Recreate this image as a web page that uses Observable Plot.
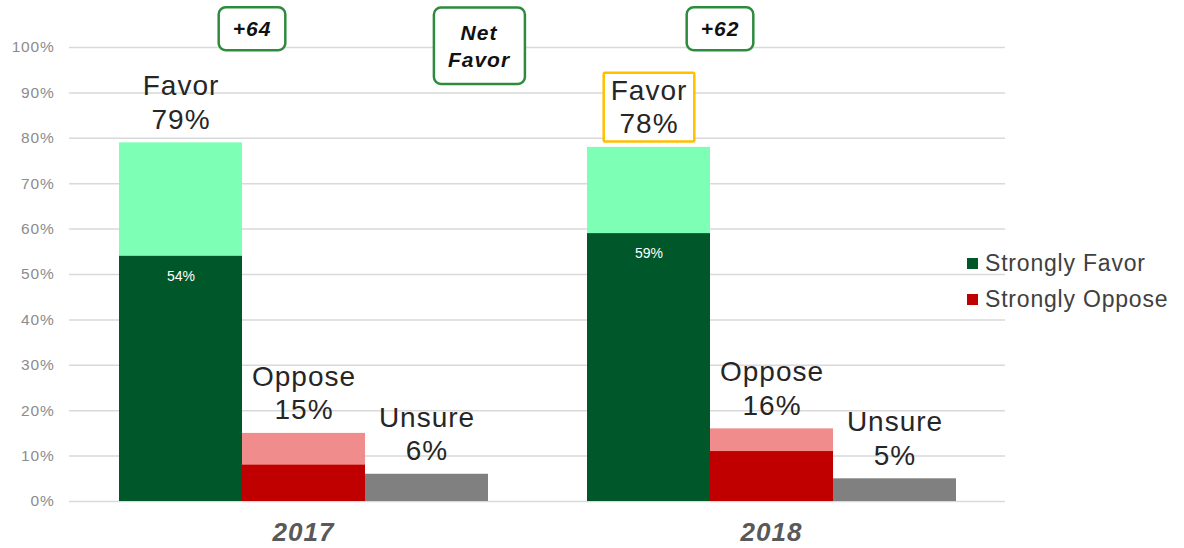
<!DOCTYPE html>
<html><head><meta charset="utf-8">
<script src="https://cdn.jsdelivr.net/npm/d3@7"></script>
<script src="https://cdn.jsdelivr.net/npm/@observablehq/plot@0.6"></script>
<style>
body{margin:0;background:#fff;font-family:"Liberation Sans",Arial,sans-serif;}
#wrap{position:relative;width:1184px;height:548px;overflow:hidden;}
#legend{position:absolute;left:967px;top:245px;}
.item{display:flex;align-items:center;height:36px;font-size:23px;letter-spacing:0.8px;color:#404040;white-space:nowrap;}
.sw{width:11px;height:11px;margin-right:7px;flex:none;}
</style></head><body><div id="wrap"><div id="chart"></div><div id="legend"></div></div>
<script>
const years = ["2017", "2018"];
const categories = ["Favor", "Oppose", "Unsure"];
const total2017 = [79, 15, 6];
const total2018 = [78, 16, 5];
const strong2017 = [54, 8, 0];
const strong2018 = [59, 11, 0];
const netFavor = ["+64", "+62"];
const netTitle = "Net\nFavor";
const legendLabels = ["Strongly Favor", "Strongly Oppose"];
const legendKeys = ["Favor strong", "Oppose strong"];
const highlighted = ["2018 Favor"];

const colorDomain = ["Favor total", "Oppose total", "Unsure total", "Favor strong", "Oppose strong"];
const colorRange = ["#7dffb5", "#f08c8c", "#808080", "#00572a", "#c00000"];

const rows = [];
years.forEach((yr, i) => {
  const t = i ? total2018 : total2017;
  const s = i ? strong2018 : strong2017;
  categories.forEach((c, j) => rows.push({year: yr, category: c, total: t[j], strong: s[j]}));
});
const isHi = d => highlighted.includes(d.year + " " + d.category);
const netRows = years.map((yr, i) => ({year: yr, label: netFavor[i], anchor: "Oppose"}));
const titleRows = [{year: years[0], label: netTitle, anchor: "Unsure"}];

const labelOpts = {fx: "year", x: "category", y: "total", text: d => `${d.category}\n${d.total}%`,
  lineAnchor: "bottom", dy: -14, fontSize: 28, lineHeight: 1.2, fill: "#262626"};
const netOpts = {fx: "year", x: "anchor", text: "label", frameAnchor: "top", lineAnchor: "middle",
  fontSize: 21, fontWeight: "bold", fontStyle: "italic", fill: "#111", lineHeight: 1.3};

const chart = Plot.plot({
  width: 1184, height: 548,
  marginLeft: 68, marginRight: 179, marginTop: 47, marginBottom: 47,
  style: {fontFamily: "'Liberation Sans', Arial, sans-serif", background: "transparent"},
  fx: {domain: years, padding: 0, label: null},
  x: {domain: categories, paddingInner: 0, paddingOuter: 0.4, axis: null},
  y: {domain: [0, 100]},
  color: {domain: colorDomain, range: colorRange},
  marks: [
    Plot.gridY({ticks: d3.range(0, 101, 10), stroke: "#d9d9d9", strokeOpacity: 1, strokeWidth: 1.5}),
    Plot.axisY({ticks: d3.range(0, 101, 10), tickSize: 0, tickPadding: 15, tickFormat: d => d + "%",
      fontSize: 15.5, fill: "#8c8c8c", label: null}),
    Plot.axisFx({anchor: "bottom", tickSize: 0, tickPadding: 21, fontSize: 26, fontWeight: "bold",
      fontStyle: "italic", fill: "#595959", label: null}),
    Plot.barY(rows, {fx: "year", x: "category", y: "total", fill: d => d.category + " total"}),
    Plot.barY(rows.filter(d => d.strong > 0), {fx: "year", x: "category", y: "strong", fill: d => d.category + " strong"}),
    Plot.text(rows.filter(d => !isHi(d)), labelOpts),
    Plot.text(rows.filter(isHi), {...labelOpts, ariaLabel: () => "highlight"}),
    Plot.text(rows.filter(d => d.category === "Favor"), {fx: "year", x: "category", y: "strong",
      text: d => d.strong + "%", dy: 20, fill: "white", fontSize: 14}),
    Plot.text(netRows, {...netOpts, dy: -20, dx: -52, ariaLabel: () => "net-favor"}),
    Plot.text(titleRows, {...netOpts, dy: -3, dx: 52, ariaLabel: () => "net-title"})
  ]
});
document.getElementById("chart").appendChild(chart);

// letter spacing to match the reference's wider type
chart.querySelectorAll("text").forEach(t => {
  const fs = parseFloat(getComputedStyle(t).fontSize) || 10;
  if (fs >= 15) t.setAttribute("letter-spacing", fs >= 20 ? "1" : "0.8");
});

const ns = "http://www.w3.org/2000/svg";
function boxAround(selector, padX, padY, stroke, sw, radius) {
  chart.querySelectorAll(selector).forEach(t => {
    const b = t.getBBox();
    const r = document.createElementNS(ns, "rect");
    r.setAttribute("x", b.x - padX);
    r.setAttribute("y", b.y - padY);
    r.setAttribute("width", b.width + 2 * padX);
    r.setAttribute("height", b.height + 2 * padY);
    r.setAttribute("rx", radius);
    r.setAttribute("fill", "white");
    r.setAttribute("stroke", stroke);
    r.setAttribute("stroke-width", sw);
    if (t.getAttribute("transform")) r.setAttribute("transform", t.getAttribute("transform"));
    t.parentNode.insertBefore(r, t);
  });
}
boxAround('text[aria-label="net-favor"]', 14, 10, "#2e8b3e", 2.5, 7);
boxAround('text[aria-label="net-title"]', 14, 13, "#2e8b3e", 2.5, 7);
boxAround('text[aria-label="highlight"]', 7, 2, "#ffc000", 2.5, 1);

const legend = document.getElementById("legend");
legendLabels.forEach((lab, i) => {
  const item = document.createElement("div");
  item.className = "item";
  const sw = document.createElement("span");
  sw.className = "sw";
  sw.style.background = colorRange[colorDomain.indexOf(legendKeys[i])];
  item.appendChild(sw);
  item.appendChild(document.createTextNode(lab));
  legend.appendChild(item);
});
</script>
</body></html>
